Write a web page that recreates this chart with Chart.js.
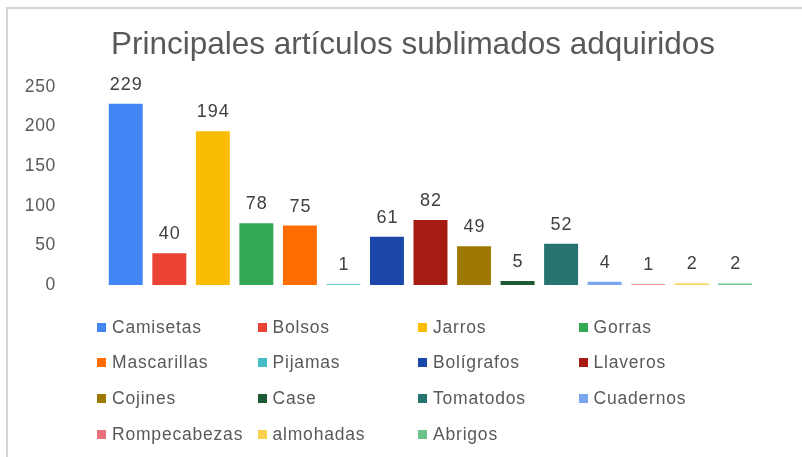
<!DOCTYPE html>
<html>
<head>
<meta charset="utf-8">
<script src="https://cdn.jsdelivr.net/npm/chart.js"></script>
<style>
  html, body { margin: 0; padding: 0; background: #fff; overflow: hidden; }
  #wrap { position: relative; width: 802px; height: 457px; }
  #frame { position: absolute; left: 6px; top: 7px; width: 900px; height: 600px;
           border-top: 2px solid #d6d6d6; border-left: 2px solid #d6d6d6; }
  #chart { position: absolute; left: 0; top: 0; }
  #legend { position: absolute; left: 97px; top: 316px; display: grid;
            grid-template-columns: repeat(4, 160.5px); grid-auto-rows: 35.8px;
            font: 17.5px "Liberation Sans", Arial, sans-serif; letter-spacing: 0.8px; color: #595959; }
  #legend .item { display: flex; align-items: center; white-space: nowrap; height: 22px; }
  #legend .box { width: 9px; height: 9px; margin-right: 6px; flex: none; }
</style>
</head>
<body>
<div id="wrap">
  <div id="frame"></div>
  <canvas id="chart" width="802" height="457"></canvas>
  <div id="legend"></div>
</div>
<script>
// articles and how many of each were bought
const categories = ['Camisetas', 'Bolsos', 'Jarros', 'Gorras', 'Mascarillas', 'Pijamas', 'Bolígrafos',
  'Llaveros', 'Cojines', 'Case', 'Tomatodos', 'Cuadernos', 'Rompecabezas', 'almohadas', 'Abrigos'];
const amounts = [229, 40, 194, 78, 75, 1, 61, 82, 49, 5, 52, 4, 1, 2, 2];
const colors = ['#4285f4', '#ea4335', '#fbbc04', '#34a853', '#ff6d01', '#46bdc6', '#1a47a8',
  '#a61c12', '#9e7800', '#1d5a34', '#26736f', '#7aa6f0', '#e8707b', '#f8d14f', '#6cc38a'];
const yTicks = [0, 50, 100, 150, 200, 250];
const chartTitle = 'Principales artículos sublimados adquiridos';

const FONT = '"Liberation Sans", Arial, sans-serif';

// one dataset per article so each gets its own legend entry
const datasets = categories.map((name, i) => ({
  label: name,
  data: categories.map((_, j) => (j === i ? amounts[i] : null)),
  backgroundColor: colors[i],
  categoryPercentage: 1,
  barPercentage: 0.78
}));

// slightly wider text spacing for the axis labels
const spacing = {
  id: 'spacing',
  beforeDraw(chart) { chart.ctx.letterSpacing = '0.7px'; }
};

// title sits centred over the bars, not over the whole canvas
const titleText = {
  id: 'titleText',
  afterDraw(chart) {
    const ctx = chart.ctx;
    ctx.save();
    ctx.letterSpacing = '0px';
    ctx.font = '31.5px ' + FONT;
    ctx.fillStyle = '#595959';
    ctx.textAlign = 'center';
    ctx.textBaseline = 'middle';
    ctx.fillText(chartTitle, 413, 45);
    ctx.restore();
  }
};

// value printed above every bar
const valueLabels = {
  id: 'valueLabels',
  afterDatasetsDraw(chart) {
    const ctx = chart.ctx;
    ctx.save();
    ctx.letterSpacing = '1px';
    ctx.font = '18px ' + FONT;
    ctx.fillStyle = '#404040';
    ctx.textAlign = 'center';
    ctx.textBaseline = 'middle';
    chart.data.datasets.forEach((ds, i) => {
      const meta = chart.getDatasetMeta(i);
      meta.data.forEach((bar, j) => {
        if (ds.data[j] == null) return;
        ctx.fillText(String(ds.data[j]), bar.x + 0.5, bar.y - 19);
      });
    });
    ctx.restore();
  }
};

const chart = new Chart(document.getElementById('chart'), {
  type: 'bar',
  data: { labels: categories, datasets },
  options: {
    responsive: false,
    animation: false,
    skipNull: true,
    layout: { padding: { left: 0, right: 45, bottom: 172, top: 87 } },
    plugins: {
      legend: { display: false },
      tooltip: { enabled: false },
      title: { display: false }
    },
    scales: {
      x: { display: false },
      y: {
        min: 0, max: 250,
        afterBuildTicks: (s) => { s.ticks = yTicks.map(v => ({ value: v })); },
        afterFit: (s) => { s.width = 104; },
        grid: { display: false, drawTicks: false },
        border: { display: false },
        ticks: {
          padding: 48,
          color: '#595959',
          font: { family: FONT, size: 17.5 }
        }
      }
    }
  },
  plugins: [spacing, valueLabels, titleText]
});

// legend laid out in four columns under the plot
const legendEl = document.getElementById('legend');
Chart.defaults.plugins.legend.labels.generateLabels(chart).forEach(item => {
  const div = document.createElement('div');
  div.className = 'item';
  const box = document.createElement('span');
  box.className = 'box';
  box.style.background = item.fillStyle;
  const txt = document.createElement('span');
  txt.textContent = item.text;
  div.appendChild(box);
  div.appendChild(txt);
  legendEl.appendChild(div);
});
</script>
</body>
</html>
